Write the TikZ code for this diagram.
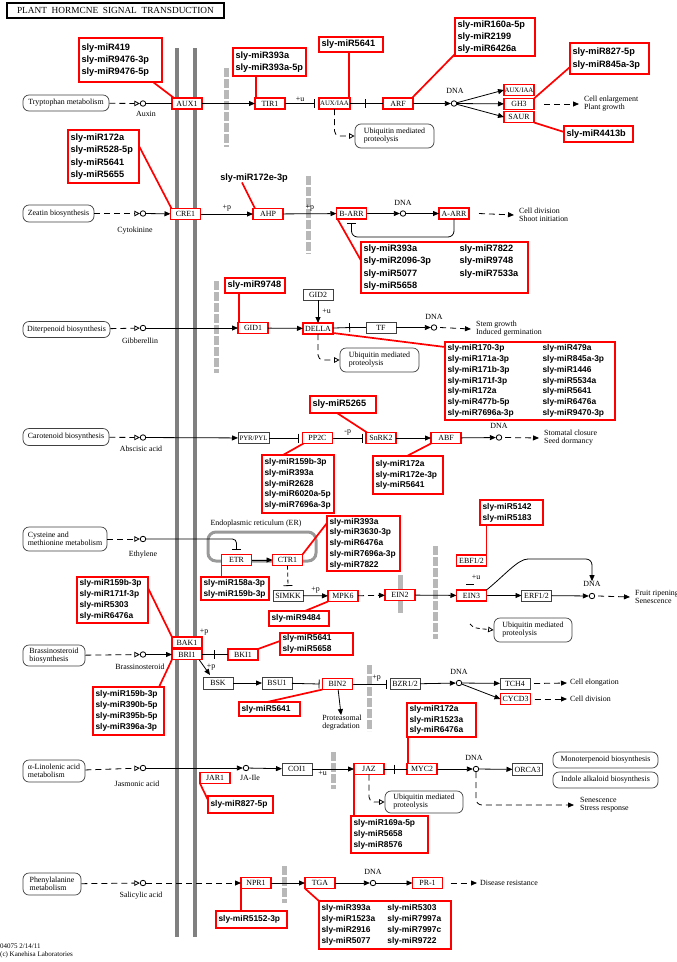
\documentclass[tikz,border=0pt]{standalone}
\usepackage{fontspec}
\setmainfont{Liberation Serif}
\setsansfont{Liberation Sans}
\usetikzlibrary{arrows.meta}

\newcommand\kegg{\fontsize{7.9}{8.2}\selectfont}
\newcommand\keggn{\fontsize{6.8}{7}\selectfont}
\newcommand\mirbig{\sffamily\bfseries\fontsize{9.2}{12.3}\selectfont}
\newcommand\mirsmall{\sffamily\bfseries\fontsize{8.4}{10.8}\selectfont}

\begin{document}
\begin{tikzpicture}[x=1pt, y=-1pt,
    gene/.style={draw=red, line width=1.3pt, fill=white, minimum width=30pt,
                 minimum height=11pt, inner sep=0pt, outer sep=0pt, font=\kegg},
    ortho/.style={draw=black!75, line width=0.7pt, fill=white, minimum width=30pt,
                  minimum height=11pt, inner sep=0pt, outer sep=0pt, font=\kegg},
    mapbox/.style={draw=black!75, line width=0.7pt, rounded corners=6pt, fill=white,
                   align=left, inner sep=0pt, font=\kegg},
    cpd/.style={circle, draw, line width=0.8pt, fill=white, inner sep=0pt, minimum size=5.5pt},
    lbl/.style={font=\kegg, inner sep=0pt, align=left},
    mir/.style={draw=red, line width=1.8pt, fill=white, inner xsep=2.5pt, inner ysep=0pt,
                outer sep=0pt, anchor=north west, align=left},
    mirL/.style={mir, font=\mirbig},
    mirS/.style={mir, font=\mirsmall},
    mlink/.style={draw=red, line width=1.7pt},
    act/.style={line width=0.8pt, -{Triangle[length=6pt,width=5pt]}},
    inh/.style={line width=0.8pt, -{Bar[width=9pt]}},
    ind/.style={line width=0.8pt, dash pattern=on 6pt off 4pt,
                -{Triangle[open,length=5.5pt,width=5.5pt]}},
    result/.style={line width=0.8pt, dash pattern=on 6pt off 4pt,
                   -{Triangle[length=6pt,width=5pt]}},
    memb/.style={draw=black!50, line width=3.8pt},
    nuc/.style={draw=black!28, line width=5pt, dash pattern=on 9pt off 2pt}
  ]
  \useasboundingbox (0,0) rectangle (677,962);

  % title
  \node[draw, line width=1.5pt, minimum width=217pt, minimum height=15pt, anchor=north west,
        inner sep=0pt, outer sep=0pt, font=\fontsize{9.3}{10}\selectfont] (title) at (7,3)
        {PLANT\ \ HORMCNE\ \ SIGNAL\ \ TRANSDUCTION};
  \draw[line width=2.5pt] (title.north west) -- (title.north east);

  % membranes and nuclear envelope
  \draw[memb] (177,48) -- (177,937);
  \draw[memb] (195,48) -- (195,937);
  \foreach \x/\ya/\yb in {226/68/147, 308/176/254, 216/281/373, 435/546/639,
                          369/665/731, 333/752/789, 284/866/903}
    \draw[nuc] (\x,\ya) -- (\x,\yb);
  \draw[draw=black!28, line width=5pt] (400,575) -- (400,613);

  % ER
  \draw[black!40, line width=3pt, rounded corners=8pt] (208,532) rectangle (316,561);
  \node[lbl] (erlbl) at (256,524) {Endoplasmic reticulum (ER)};

  % auxin
  \node[mapbox, minimum width=86pt, minimum height=16pt] (trp) at (66,103) {Tryptophan metabolism};
  \node[cpd] (auxin) at (143,103.5) {};
  \node[lbl] (auxinlbl) at (146,114) {Auxin};
  \node[gene] (aux1) at (187,103.5) {AUX1};
  \node[gene] (tir1) at (270,103.5) {TIR1};
  \node[gene, minimum width=31pt, font=\keggn] (auxiaa) at (334.5,103.5) {AUX/IAA};
  \node[gene] (arf) at (398,103.5) {ARF};
  \node[cpd] (dna1) at (454,103.5) {};
  \node[lbl] (dna1lbl) at (455,91) {DNA};
  \node[gene, font=\keggn] (auxiaa2) at (519,90) {AUX/IAA};
  \node[gene] (gh3) at (519,104) {GH3};
  \node[gene] (saur) at (519,117) {SAUR};
  \node[lbl, anchor=west] (res1) at (584,104) {Cell enlargement\\Plant growth};
  \node[mapbox, minimum width=79pt, minimum height=24pt] (ub1) at (394.5,136) {Ubiquitin mediated\\proteolysis};

  \node[mirL, text width=78pt, minimum height=44pt] (m1) at (79,38) {sly-miR419\\sly-miR9476-3p\\sly-miR9476-5p};
  \node[mirL, text width=68pt, minimum height=28pt] (m2) at (233,48) {sly-miR393a\\sly-miR393a-5p};
  \node[mirL, text width=59pt, minimum height=15pt] (m3) at (319,37) {sly-miR5641};
  \node[mirL, text width=75pt, minimum height=38pt] (m4) at (455,18) {sly-miR160a-5p\\sly-miR2199\\sly-miR6426a};
  \node[mirL, text width=74pt, minimum height=31pt] (m5) at (570,43) {sly-miR827-5p\\sly-miR845a-3p};
  \node[mirL, text width=64pt, minimum height=16pt] (m6) at (564,126) {sly-miR4413b};

  % cytokinine
  \node[mapbox, minimum width=71pt, minimum height=17pt] (zea) at (58.5,213.5) {Zeatin biosynthesis};
  \node[cpd] (cyt) at (143,213.5) {};
  \node[lbl] (cytlbl) at (135,231) {Cytokinine};
  \node[gene] (cre1) at (185.5,214) {CRE1};
  \node[gene] (ahp) at (268,214) {AHP};
  \node[gene] (barr) at (351.5,213.5) {B-ARR};
  \node[cpd] (dna2) at (403,213.5) {};
  \node[lbl] (dna2lbl) at (403,203) {DNA};
  \node[gene] (aarr) at (454,213.5) {A-ARR};
  \node[lbl, anchor=west] (res2) at (519,215) {Cell division\\Shoot initiation};

  \node[mirL, text width=66pt, minimum height=53pt] (m7) at (68,130) {sly-miR172a\\sly-miR528-5p\\sly-miR5641\\sly-miR5655};
  \node[font=\mirbig, inner sep=0pt] (m8) at (254,178) {sly-miR172e-3p};
  \node[mirL, text width=162pt, minimum height=51pt] (m9) at (361,242)
    {\begin{tabular}{@{}p{96pt}@{}l@{}}
     sly-miR393a & sly-miR7822\\ sly-miR2096-3p & sly-miR9748\\
     sly-miR5077 & sly-miR7533a\\ sly-miR5658 & \end{tabular}};

  % gibberellin
  \node[mapbox, minimum width=87pt, minimum height=16pt] (dit) at (66.5,329.5) {Diterpenoid biosynthesis};
  \node[cpd] (ga) at (143,328) {};
  \node[lbl] (galbl) at (140,341) {Gibberellin};
  \node[gene] (gid1) at (253,328) {GID1};
  \node[gene] (della) at (318,328.5) {DELLA};
  \node[ortho] (gid2) at (318,294.5) {GID2};
  \node[ortho] (tf) at (381,327.5) {TF};
  \node[cpd] (dna3) at (434,327.5) {};
  \node[lbl] (dna3lbl) at (434,317) {DNA};
  \node[lbl, anchor=west] (res3) at (476,329) {Stem growth\\Induced germination};
  \node[mapbox, minimum width=79pt, minimum height=24pt] (ub2) at (379.5,360) {Ubiquitin mediated\\proteolysis};

  \node[mirL, text width=55pt, minimum height=15pt] (m10) at (225,278) {sly-miR9748};
  \node[mirS, text width=165pt, minimum height=78pt] (m11) at (445,342)
    {\begin{tabular}{@{}p{95pt}@{}l@{}}
     sly-miR170-3p & sly-miR479a\\ sly-miR171a-3p & sly-miR845a-3p\\
     sly-miR171b-3p & sly-miR1446\\ sly-miR171f-3p & sly-miR5534a\\
     sly-miR172a & sly-miR5641\\ sly-miR477b-5p & sly-miR6476a\\
     sly-miR7696a-3p & sly-miR9470-3p\end{tabular}};

  % abscisic acid
  \node[mapbox, minimum width=86pt, minimum height=17pt] (car) at (66,437) {Carotenoid biosynthesis};
  \node[cpd] (aba) at (143,437.5) {};
  \node[lbl] (abalbl) at (141,449) {Abscisic acid};
  \node[ortho, minimum width=31pt, font=\keggn] (pyr) at (253.5,438) {PYR/PYL};
  \node[gene] (pp2c) at (317.5,438) {PP2C};
  \node[gene] (snrk2) at (381,438) {SnRK2};
  \node[gene] (abf) at (446,438) {ABF};
  \node[cpd] (dna4) at (499,437.5) {};
  \node[lbl] (dna4lbl) at (499,426) {DNA};
  \node[lbl, anchor=west] (res4) at (544,438) {Stomatal closure\\Seed dormancy};

  \node[mirL, text width=61pt, minimum height=17pt] (m12) at (310,396) {sly-miR5265};
  \node[mirS, text width=67pt, minimum height=58pt] (m13) at (262,455) {sly-miR159b-3p\\sly-miR393a\\sly-miR2628\\sly-miR6020a-5p\\sly-miR7696a-3p};
  \node[mirS, text width=65pt, minimum height=38pt] (m14) at (373,456) {sly-miR172a\\sly-miR172e-3p\\sly-miR5641};

  % ethylene
  \node[mapbox, minimum width=84pt, minimum height=24pt] (cys) at (65,539) {Cysteine and\\methionine metabolism};
  \node[cpd] (eth) at (143,539) {};
  \node[lbl] (ethlbl) at (143,555) {Ethylene};
  \node[gene] (etr) at (236.5,560) {ETR};
  \node[gene] (ctr1) at (287.5,560) {CTR1};
  \node[ortho] (simkk) at (288,595.5) {SIMKK};
  \node[gene] (mpk6) at (343,596) {MPK6};
  \node[gene] (ein2) at (400,595) {EIN2};
  \node[gene] (ebf) at (471.5,560.5) {EBF1/2};
  \node[gene] (ein3) at (471.5,595.5) {EIN3};
  \node[ortho] (erf) at (536.5,595.5) {ERF1/2};
  \node[cpd] (dna5) at (592,596) {};
  \node[lbl] (dna5lbl) at (592,584) {DNA};
  \node[lbl, anchor=west] (res5) at (635,597) {Fruit ripening\\Senescence};
  \node[mapbox, minimum width=78pt, minimum height=24pt] (ub3) at (533,630) {Ubiquitin mediated\\proteolysis};
  \node[lbl] (u3) at (476,577) {+u};
  \coordinate (ub3tail) at (470,624);

  \node[mirS, text width=68pt, minimum height=55pt] (m15) at (327,516) {sly-miR393a\\sly-miR3630-3p\\sly-miR6476a\\sly-miR7696a-3p\\sly-miR7822};
  \node[mirS, text width=63pt, minimum height=23pt] (m16) at (201,577) {sly-miR158a-3p\\sly-miR159b-3p};
  \node[mirS, text width=55pt, minimum height=15pt] (m17) at (269,611) {sly-miR9484};
  \node[mirS, text width=58pt, minimum height=25pt] (m18) at (480,500) {sly-miR5142\\sly-miR5183};

  % brassinosteroid
  \node[mapbox, minimum width=62pt, minimum height=21pt] (bra) at (54,655.5) {Brassinosteroid\\biosynthesis};
  \node[cpd] (br) at (143,654.5) {};
  \node[lbl] (brlbl) at (140,667) {Brassinosteroid};
  \node[gene] (bak1) at (187,642.5) {BAK1};
  \node[gene, minimum height=10pt] (bri1) at (187,654.5) {BRI1};
  \node[lbl] (p4) at (204,632) {+p};
  \node[gene] (bki1) at (243,654.5) {BKI1};
  \node[ortho, minimum height=12pt] (bsk) at (218,683) {BSK};
  \node[ortho, minimum height=12pt] (bsu1) at (277,683) {BSU1};
  \node[gene] (bin2) at (337.5,684) {BIN2};
  \node[lbl] (prot) at (342,723) {Proteasomal\\degradation};
  \node[ortho] (bzr) at (405,684) {BZR1/2};
  \node[cpd] (dna6) at (459,683) {};
  \node[lbl] (dna6lbl) at (459,672) {DNA};
  \node[ortho] (tch4) at (515,683.5) {TCH4};
  \node[gene] (cycd3) at (515.5,699) {CYCD3};
  \node[lbl, anchor=west] (res6a) at (570,683) {Cell elongation};
  \node[lbl, anchor=west] (res6b) at (570,699) {Cell division};

  \node[mirS, text width=66pt, minimum height=46pt] (m19) at (77,577) {sly-miR159b-3p\\sly-miR171f-3p\\sly-miR5303\\sly-miR6476a};
  \node[mirS, text width=66pt, minimum height=48pt] (m20) at (93,687) {sly-miR159b-3p\\sly-miR390b-5p\\sly-miR395b-5p\\sly-miR396a-3p};
  \node[mirS, text width=68pt, minimum height=22pt] (m21) at (280,633) {sly-miR5641\\sly-miR5658};
  \node[mirS, text width=56pt, minimum height=14pt] (m22) at (239,702) {sly-miR5641};

  % jasmonic acid
  \node[mapbox, minimum width=62pt, minimum height=22pt] (lin) at (54,771) {α-Linolenic acid\\metabolism};
  \node[cpd] (ja) at (143,768) {};
  \node[lbl] (jalbl) at (137,784) {Jasmonic acid};
  \node[cpd] (jaile) at (246,768) {};
  \node[lbl] (jailelbl) at (250,778) {JA-Ile};
  \node[gene] (jar1) at (215,778) {JAR1};
  \node[ortho, minimum height=12pt] (coi1) at (297,769) {COI1};
  \node[gene] (jaz) at (369,769) {JAZ};
  \node[gene] (myc2) at (422,769) {MYC2};
  \node[cpd] (dna7) at (476,769) {};
  \node[lbl] (dna7lbl) at (474,758) {DNA};
  \node[ortho, minimum height=12pt] (orca3) at (527.5,769.5) {ORCA3};
  \node[mapbox, minimum width=105pt, minimum height=16pt] (mono) at (605.5,760) {Monoterpenoid biosynthesis};
  \node[mapbox, minimum width=105pt, minimum height=16pt] (indo) at (605.5,780) {Indole alkaloid biosynthesis};
  \node[lbl, anchor=west] (res7) at (580,805) {Senescence\\Stress response};
  \node[mapbox, minimum width=78pt, minimum height=22pt] (ub4) at (424,802) {Ubiquitin mediated\\proteolysis};

  \node[mirS, text width=64pt, minimum height=34pt] (m23) at (407,703) {sly-miR172a\\sly-miR1523a\\sly-miR6476a};
  \node[mirS, text width=72pt, minimum height=37pt] (m24) at (351,816) {sly-miR169a-5p\\sly-miR5658\\sly-miR8576};
  \node[mirS, text width=60pt, minimum height=17pt] (m25) at (208,796) {sly-miR827-5p};

  % salicylic acid
  \node[mapbox, minimum width=58pt, minimum height=22pt] (phe) at (52,884) {Phenylalanine\\metabolism};
  \node[cpd] (sa) at (143,883) {};
  \node[lbl] (salbl) at (141,896) {Salicylic acid};
  \node[gene] (npr1) at (256,883) {NPR1};
  \node[gene] (tga) at (320,883) {TGA};
  \node[cpd] (dna8) at (373,883) {};
  \node[lbl] (dna8lbl) at (373,872) {DNA};
  \node[gene] (pr1) at (427.5,883) {PR-1};
  \node[lbl, anchor=west] (res8) at (480,883) {Disease resistance};

  \node[mirS, text width=66pt, minimum height=17pt] (m26) at (216,911) {sly-miR5152-3p};
  \node[mirS, text width=127pt, minimum height=48pt] (m27) at (319,901)
    {\begin{tabular}{@{}p{66pt}@{}l@{}}
     sly-miR393a & sly-miR5303\\ sly-miR1523a & sly-miR7997a\\
     sly-miR2916 & sly-miR7997c\\ sly-miR5077 & sly-miR9722\end{tabular}};

  \node[lbl, anchor=north west, font=\fontsize{7}{7.6}\selectfont] (foot) at (0,944)
    {04075 2/14/11\\(c) Kanehisa Laboratories};

  % connectors: auxin
  \draw[ind] (trp) -- (auxin);
  \draw[line width=0.8pt] (auxin) -- (aux1);
  \draw[act] (aux1) -- (tir1);
  \draw[inh] (tir1) -- node[lbl, above=2pt] (u1) {+u} ([xshift=-4pt]auxiaa.west);
  \draw[inh] (auxiaa) -- ([xshift=-17pt]arf.west);
  \draw[line width=0.8pt] ([xshift=-17pt]arf.west) -- (arf);
  \draw[act] (arf) -- (dna1);
  \draw[act] (dna1) -- (auxiaa2.west);
  \draw[act] (dna1) -- (gh3);
  \draw[act] (dna1) -- (saur.west);
  \draw[result] ([xshift=10pt]gh3.east) -- ([xshift=-5pt]res1.west);
  \draw[ind, rounded corners=5pt] (auxiaa.south) |- (ub1.west);

  % cytokinine
  \draw[ind] (zea) -- (cyt);
  \draw[act] (cyt) -- (cre1);
  \draw[act] (cre1) -- node[lbl, above=2pt] (p1) {+p} (ahp);
  \draw[act] (ahp) -- node[lbl, above=2pt] (p2) {+p} (barr);
  \draw[act] (barr) -- (dna2);
  \draw[act] (dna2) -- (aarr);
  \draw[result] ([xshift=10pt]aarr.east) -- ([xshift=-5pt]res2.west);
  \draw[inh, rounded corners=6pt] (aarr.south) -- ++(0,18) -| ([yshift=-4pt]barr.south);

  % gibberellin
  \draw[ind] (dit) -- (ga);
  \draw[act] (ga) -- (gid1);
  \draw[act] (gid1) -- (della);
  \draw[act] (gid2) -- node[lbl, right=4pt] (u2) {+u} (della);
  \draw[inh] (della) -- ([xshift=-16pt]tf.west);
  \draw[line width=0.8pt] ([xshift=-16pt]tf.west) -- (tf);
  \draw[act] (tf) -- (dna3);
  \draw[result] ([xshift=3pt]dna3.east) -- ([xshift=-5pt]res3.west);
  \draw[ind, rounded corners=5pt] (della.south) |- (ub2.west);

  % abscisic acid
  \draw[ind] (car) -- (aba);
  \draw[act] (aba) -- (pyr);
  \draw[inh] (pyr) -- ([xshift=-4pt]pp2c.west);
  \draw[inh] (pp2c) -- node[lbl, above=2pt] (mp) {-p} ([xshift=-3pt]snrk2.west);
  \draw[act] (snrk2) -- (abf);
  \draw[act] (abf) -- (dna4);
  \draw[result] ([xshift=3pt]dna4.east) -- ([xshift=-5pt]res4.west);

  % ethylene
  \draw[ind] (cys) -- (eth);
  \draw[inh, rounded corners=4pt] (eth.east) -| ([yshift=5pt]etr.north);
  \draw[act] (etr) -- (ctr1);
  \draw[inh, dash pattern=on 4pt off 3pt] (ctr1.south) -- ([yshift=4pt]simkk.north);
  \draw[act] (simkk) -- node[lbl, above=2pt] (p3) {+p} (mpk6);
  \draw[result] (mpk6) -- (ein2);
  \draw[act] (ein2) -- (ein3);
  \draw[act] (ein3) -- (erf);
  \draw[act] (erf) -- (dna5);
  \draw[act, rounded corners=6pt] (ein3.north east) .. controls (505,575) and (518,559) .. (534,559)
    -- (592,559) -- (dna5lbl.north);
  \draw[result] ([xshift=3pt]dna5.east) -- ([xshift=-5pt]res5.west);
  \draw[line width=0.8pt] (u3.south) ++(-10,5) -- ++(8,0);
  \draw[ind, dash pattern=on 4pt off 3pt] (ub3tail) .. controls (474,628) .. (ub3.west);

  % brassinosteroid
  \draw[ind] (bra) -- (br);
  \draw[act] (br) -- (bri1);
  \draw[inh] (bri1) -- ([xshift=-13pt]bki1.west);
  \draw[line width=0.8pt] ([xshift=-13pt]bki1.west) -- (bki1);
  \draw[act] ([xshift=-3pt]bri1.south east) -- node[lbl, right=2pt] (p5) {+p} ([xshift=7pt,yshift=2pt]bsk.north west);
  \draw[act] (bsk) -- (bsu1);
  \draw[inh] (bsu1) -- ([xshift=-3pt]bin2.west);
  \draw[act] (bin2) -- (prot);
  \draw[inh] (bin2) -- node[lbl, above=2pt, pos=0.7] (p6) {+p} ([xshift=-3pt]bzr.west);
  \draw[act] (bzr) -- (dna6);
  \draw[act] (dna6) -- (tch4);
  \draw[act] (dna6) -- (cycd3.west);
  \draw[result] ([xshift=4pt]tch4.east) -- ([xshift=-3pt]res6a.west);
  \draw[result] ([xshift=4pt]cycd3.east) -- ([xshift=-3pt]res6b.west);

  % jasmonic acid
  \draw[ind] (lin) -- (ja);
  \draw[act] (ja) -- (jaile);
  \draw[act] (jaile) -- (coi1);
  \draw[act] (coi1) -- node[lbl, below=2pt, pos=0.25] (u4) {+u} (jaz);
  \draw[inh] (jaz) -- ([xshift=-12pt]myc2.west);
  \draw[line width=0.8pt] ([xshift=-12pt]myc2.west) -- (myc2);
  \draw[act] (myc2) -- (dna7);
  \draw[act] (dna7) -- (orca3);
  \draw[result, rounded corners=6pt] (dna7.south) |- ([xshift=-6pt]res7.west);
  \draw[ind, rounded corners=5pt] (jaz.south) |- (ub4.west);

  % salicylic acid
  \draw[ind] (phe) -- (sa);
  \draw[result] (sa) -- (npr1);
  \draw[act] (npr1) -- (tga);
  \draw[act] (tga) -- (dna8);
  \draw[act] (dna8) -- (pr1);
  \draw[result] ([xshift=8pt]pr1.east) -- ([xshift=-3pt]res8.west);

  % miRNA links
  \draw[mlink] ([xshift=-9pt]m1.south east) -- ([xshift=2pt]aux1.north west);
  \draw[mlink] ([xshift=1pt]tir1.north west) -- ([xshift=1pt]tir1.north west |- m2.south);
  \draw[mlink] ([xshift=-1pt]auxiaa.north east) -- ([xshift=-1pt]auxiaa.north east |- m3.south);
  \draw[mlink] ([xshift=-1pt]arf.north east) -- ([yshift=2pt]m4.south west);
  \draw[mlink] (gh3.north east) -- ([yshift=7pt]m5.south west);
  \draw[mlink] (saur.south east) -- ([yshift=2pt]m6.west);
  \draw[mlink] ([yshift=-16pt]m7.north east) -- ([xshift=1pt]cre1.north west);
  \draw[mlink] ([xshift=-12pt]m8.south) -- ([xshift=2pt]ahp.north west);
  \draw[mlink] ([xshift=1pt]barr.south west) -- ([yshift=7pt]m9.west);
  \draw[mlink] ([xshift=1pt]gid1.north west) -- ([xshift=1pt]gid1.north west |- m10.south);
  \draw[mlink] ([yshift=1pt]della.south east) -- ([yshift=-5pt]m11.north west);
  \draw[mlink] ([xshift=27pt]m12.south west) -- ([xshift=1pt]snrk2.north west);
  \draw[mlink] ([xshift=1pt]pp2c.south west) -- ([xshift=21pt]m13.north west);
  \draw[mlink] (abf.south west) -- ([xshift=34pt]m14.north west);
  \draw[mlink] (ctr1.north east) -- ([yshift=-7pt]m15.north west);
  \draw[mlink] (etr.south west) -- (etr.south west |- m16.north);
  \draw[mlink] (mpk6.south west) -- ([xshift=36pt]m17.north west);
  \draw[mlink] (ebf.north east) -- (ebf.north east |- m18.south);
  \draw[mlink] ([yshift=-11pt]m19.north east) -- (bak1.north west);
  \draw[mlink] (bri1.south west) -- ([xshift=-5pt]m20.north east);
  \draw[mlink] (bki1.north east) -- ([yshift=-8pt]m21.north west);
  \draw[mlink] ([xshift=-33pt]m22.north east) -- (bin2.south west);
  \draw[mlink] ([xshift=1pt]myc2.north west) -- ([xshift=1pt]myc2.north west |- m23.south);
  \draw[mlink] (jaz.south west) -- (jaz.south west |- m24.north);
  \draw[mlink] (jar1.south west) -- ([yshift=-4pt]m25.north west);
  \draw[mlink] (npr1.south west) -- (npr1.south west |- m26.north);
  \draw[mlink] (tga.south west) -- (m27.north west);
\end{tikzpicture}
\end{document}
